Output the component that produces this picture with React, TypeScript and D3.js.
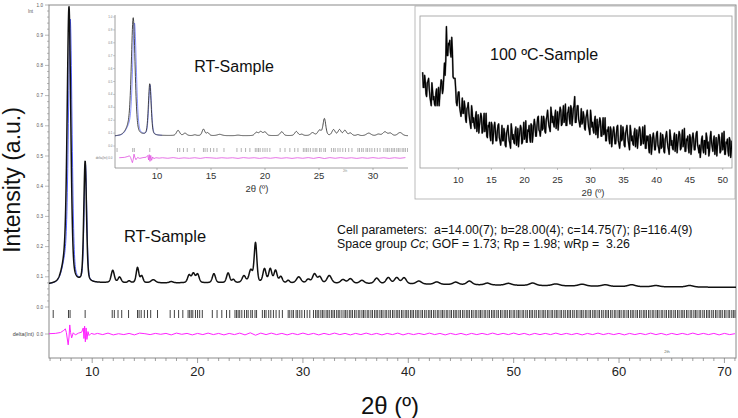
import React from "react";
import * as d3 from "d3";

const FONT = '"Liberation Sans", Arial, Helvetica, sans-serif';

// ---------- RT-sample pattern: peaks (2θ, height above background, FWHM) ----------
const peakPos = [7.5, 7.8, 9.33, 11.95, 12.6, 13.5, 14.3, 14.7, 15.8, 17.5, 19.2, 19.6, 20.0, 21.55, 22.9, 23.4, 24.4, 25.05, 25.5, 26.35, 26.9, 27.4, 27.9, 28.6, 29.6, 30.5, 31.1, 31.6, 32.5, 33.8, 34.5, 35.6, 37.0, 38.1, 38.9, 39.6, 41.0, 42.7, 44.5, 45.8, 47.5, 49.5, 51.8, 54.0, 56.5, 58.7, 61.2, 63.5, 66.7];
const peakHeight = [0.07, 0.87, 0.4, 0.04, 0.018, 0.006, 0.05, 0.022, 0.01, 0.004, 0.025, 0.03, 0.028, 0.03, 0.032, 0.01, 0.022, 0.04, 0.13, 0.045, 0.045, 0.04, 0.02, 0.008, 0.02, 0.012, 0.03, 0.02, 0.025, 0.012, 0.015, 0.01, 0.018, 0.02, 0.02, 0.02, 0.01, 0.008, 0.008, 0.012, 0.006, 0.006, 0.008, 0.006, 0.006, 0.005, 0.006, 0.004, 0.005];
const peakWidth = [0.8, 0.4, 0.3, 0.35, 0.35, 0.3, 0.3, 0.3, 0.5, 0.4, 0.35, 0.35, 0.35, 0.35, 0.35, 0.3, 0.4, 0.4, 0.3, 0.35, 0.35, 0.35, 0.35, 0.3, 0.5, 0.4, 0.45, 0.4, 0.5, 0.5, 0.5, 0.5, 0.5, 0.5, 0.5, 0.5, 0.6, 0.6, 0.6, 0.6, 0.6, 0.7, 0.7, 0.8, 0.8, 0.8, 0.8, 0.8, 0.8];
// calculated profile differs on the two strong low-angle peaks
const calcStrongPos = [7.52, 7.92, 9.36];
const calcStrongHeight = [0.07, 0.84, 0.39];

const bgTheta = [5.9, 7, 9, 12, 16, 20, 25, 30, 35, 40, 50, 60, 71.1];
const bgLevel = [0.074, 0.076, 0.078, 0.08, 0.08, 0.08, 0.08, 0.079, 0.078, 0.076, 0.072, 0.068, 0.065];

// reflection (hkl) positions, 2θ
const reflections = [6.3, 7.75, 7.9, 9.33, 11.9, 12.1, 12.45, 12.8, 13.45, 14.3, 14.45, 14.65, 14.95, 15.25, 15.55, 16.2, 17.4, 17.8, 18.2, 18.6, 19.1, 19.25, 19.4, 19.55, 19.8, 20.0, 20.2, 20.45, 21.4, 21.85, 22.3, 22.75, 23.05, 23.55, 23.7, 23.85, 24.0, 24.2, 24.45, 24.65, 24.8, 25.05, 25.2, 25.45, 25.6, 26.15, 26.35, 26.5, 26.75, 26.95, 27.2, 27.45, 27.75, 28.05, 28.6, 28.75, 28.95, 29.1, 29.35, 29.5, 29.7, 29.9, 30.15, 30.4, 30.65, 31.0, 31.2, 31.35, 31.5, 31.7, 31.85, 32.0, 32.2, 32.35, 32.5, 32.7, 32.85, 33.0, 33.2, 33.35, 33.5, 33.7, 33.9, 34.05, 34.2, 34.4, 34.55, 34.7, 34.9, 35.05, 35.25, 35.4, 35.6, 35.75, 35.9, 36.1, 36.25, 36.45, 36.6, 36.8, 36.95, 37.1, 37.3, 37.45, 37.6, 37.8, 37.95, 38.15, 38.3, 38.5, 38.65, 38.85, 39.0, 39.15, 39.35, 39.5, 39.7, 39.85,
  40.0, 40.2, 40.35, 40.5, 40.7, 40.85, 41.0, 41.2, 41.35, 41.55, 41.7, 41.9, 42.05, 42.2, 42.4, 42.55, 42.75, 42.9, 43.1, 43.25, 43.4, 43.6, 43.75, 43.95, 44.1, 44.3, 44.45, 44.6, 44.8, 44.95, 45.15, 45.3, 45.5, 45.65, 45.8, 46.0, 46.15, 46.35, 46.5, 46.7, 46.85, 47.0, 47.2, 47.35, 47.55, 47.7, 47.9, 48.05, 48.2, 48.4, 48.55, 48.75, 48.9, 49.1, 49.25, 49.4, 49.6, 49.75, 49.95, 50.1, 50.3, 50.45, 50.6, 50.8, 50.95, 51.15, 51.3, 51.5, 51.65, 51.8, 52.0, 52.15, 52.35, 52.5, 52.7, 52.85, 53.0, 53.2, 53.35, 53.55, 53.7, 53.9, 54.05, 54.2, 54.4, 54.55, 54.75, 54.9, 55.1, 55.25, 55.4, 55.6, 55.75, 55.95, 56.1, 56.3, 56.45, 56.6, 56.8, 56.95, 57.15, 57.3, 57.5, 57.65, 57.8, 58.0, 58.15, 58.35, 58.5, 58.7, 58.85, 59.0, 59.2, 59.35, 59.55, 59.7, 59.9, 60.05, 60.2, 60.4, 60.55, 60.75, 60.9, 61.1, 61.25, 61.4, 61.6, 61.75, 61.95, 62.1, 62.3, 62.45, 62.6, 62.8, 62.95, 63.15, 63.3, 63.5, 63.65, 63.8, 64.0, 64.15, 64.35, 64.5, 64.7, 64.85, 65.0, 65.2, 65.35, 65.55, 65.7, 65.9, 66.05, 66.2, 66.4, 66.55, 66.75, 66.9, 67.1, 67.25, 67.4, 67.6, 67.75, 67.95, 68.1, 68.3, 68.45, 68.6, 68.8, 68.95, 69.15, 69.3, 69.5, 69.65, 69.8, 70.0, 70.15, 70.35, 70.5, 70.7, 70.85, 71.0];

// difference curve (obs - calc): low-angle part
const diffHeadTheta = [5.9, 6.5, 7.0, 7.3, 7.45, 7.55, 7.65, 7.72, 7.8, 7.87, 7.95, 8.05, 8.2, 8.4, 8.7, 9.0, 9.15, 9.22, 9.28, 9.35, 9.42, 9.5, 9.6, 9.7, 9.9, 10.2];
const diffHeadValue = [0.001, 0.002, 0.005, 0.012, 0.017, 0.005, -0.02, -0.036, -0.01, 0.03, 0.005, -0.013, 0.004, -0.003, 0.003, 0.006, 0.02, -0.015, 0.026, -0.026, 0.02, -0.018, 0.008, -0.005, 0.002, -0.001];
// from 10.5° every 0.5°
const diffTailStart = 10.5;
const diffTailValue = [
  0.002, -0.002, 0.003, -0.003, 0.001, -0.002, 0.002, -0.003, 0.003, 0.001,
  -0.002, 0.002, -0.001, 0.002, -0.003, 0.003, -0.001, 0.002, -0.003, 0.002,
  -0.002, 0.003, -0.002, 0.002, -0.003, 0.002, -0.002, 0.003, -0.003, 0.004,
  -0.004, 0.003, -0.002, 0.003, -0.002, 0.002, -0.003, 0.002, -0.002, 0.003,
  -0.002, 0.002, -0.003, 0.002, -0.002, 0.003, -0.002, 0.002, -0.003, 0.002,
  -0.002, 0.003, -0.002, 0.002, -0.003, 0.002, -0.002, 0.003, -0.003, 0.002,
  -0.002, 0.002, -0.002, 0.003, -0.002, 0.002, -0.003, 0.002, -0.002, 0.002,
  -0.003, 0.002, -0.002, 0.002, -0.002, 0.003, -0.002, 0.002, -0.002, 0.003,
  -0.002, 0.002, -0.003, 0.002, -0.002, 0.002, -0.002, 0.003, -0.002, 0.002,
  -0.002, 0.002, -0.003, 0.002, -0.002, 0.003, -0.002, 0.002, -0.002, 0.002,
  -0.003, 0.002, -0.002, 0.002, -0.002, 0.003, -0.002, 0.002, -0.003, 0.002,
  -0.002, 0.002, -0.002, 0.003, -0.002, 0.002, -0.002, 0.002, -0.003, 0.002,
  -0.002, 0.001];

// ---------- 100 ºC sample: intensity (arb.) read every 0.1° ----------
// points at 4.6, 4.8, ... 51.4
const hotEvenStart = 4.6;
const hotIntensityEven = [
  63, 53, 57, 47, 57, 52, 44, 56, 45, 42,
  49, 41, 53, 48, 58, 49, 60, 61, 93, 74,
  81, 76, 86, 60, 59, 52, 41, 50, 40, 34,
  46, 36, 40, 30, 40, 36, 29, 41, 30, 28,
  34, 24, 35, 28, 36, 23, 30, 24, 36, 20,
  27, 21, 30, 16, 27, 25, 18, 28, 20, 15,
  28, 18, 23, 14, 25, 22, 16, 29, 19, 17,
  24, 15, 26, 20, 28, 16, 23, 19, 31, 17,
  24, 20, 29, 17, 28, 28, 21, 33, 25, 21,
  34, 26, 31, 23, 34, 32, 26, 40, 30, 29,
  34, 26, 37, 31, 40, 28, 35, 30, 42, 28,
  37, 32, 41, 28, 39, 47, 30, 41, 32, 27,
  39, 30, 34, 25, 35, 32, 25, 38, 27, 25,
  31, 22, 32, 26, 33, 21, 27, 22, 33, 18,
  24, 19, 27, 14, 24, 23, 16, 27, 18, 13,
  28, 19, 23, 14, 25, 22, 15, 28, 18, 16,
  23, 14, 25, 19, 27, 15, 21, 16, 28, 13,
  18, 13, 22, 9, 20, 19, 12, 23, 15, 10,
  23, 14, 19, 10, 21, 18, 12, 25, 15, 13,
  20, 11, 22, 16, 24, 12, 19, 14, 26, 11,
  18, 13, 22, 9, 20, 19, 12, 23, 15, 10,
  7, 19, 13, 18, 9, 20, 17, 11, 24, 14,
  18, 9, 20, 14, 22, 10, 17, 12, 24, 9,
  16, 11, 20, 7, 18];
// points at 4.7, 4.9, ... 51.3
const hotOddStart = 4.7;
const hotIntensityOdd = [
  53, 61, 49, 56, 59, 47, 41, 51, 47, 41,
  52, 45, 41, 53, 57, 52, 69, 71, 74, 82,
  84, 73, 77, 59, 59, 43, 46, 50, 37, 38,
  36, 44, 32, 39, 43, 32, 26, 37, 33, 26,
  37, 28, 23, 32, 34, 24, 36, 26, 21, 28,
  30, 18, 28, 21, 30, 18, 24, 29, 18, 20,
  18, 26, 15, 23, 28, 18, 13, 25, 22, 16,
  27, 19, 14, 24, 26, 17, 30, 21, 17, 25,
  28, 17, 28, 22, 32, 21, 28, 34, 24, 26,
  25, 34, 24, 32, 38, 28, 24, 36, 34, 27,
  38, 30, 25, 36, 38, 29, 41, 32, 28, 36,
  40, 29, 39, 33, 41, 30, 36, 41, 30, 31,
  29, 37, 26, 33, 38, 27, 22, 33, 30, 23,
  34, 25, 20, 29, 31, 21, 33, 23, 18, 25,
  27, 16, 25, 19, 27, 16, 22, 28, 16, 18,
  18, 27, 15, 23, 28, 18, 12, 24, 21, 15,
  26, 18, 13, 23, 25, 16, 27, 18, 13, 21,
  21, 10, 20, 14, 23, 12, 18, 24, 13, 15,
  13, 22, 11, 19, 24, 14, 9, 21, 18, 12,
  23, 15, 10, 20, 22, 13, 25, 16, 11, 19,
  21, 10, 20, 14, 23, 12, 18, 24, 13, 15,
  12, 21, 10, 18, 23, 13, 8, 20, 17, 11,
  21, 13, 8, 18, 20, 11, 23, 14, 9, 17,
  19, 8, 18, 12];

// ---------- tick labels ----------
const mainXTicks = [10, 20, 30, 40, 50, 60, 70];
const mainYTicks = [0, 0.1, 0.2, 0.3, 0.4, 0.5, 0.6, 0.7, 0.8, 0.9, 1.0];
const rtInsetXTicks = [10, 15, 20, 25, 30];
const hotInsetXTicks = [10, 15, 20, 25, 30, 35, 40, 45, 50];

// ---------- helpers ----------
const ETA = 0.3;
function pv(t: number, p: number, h: number, w: number) {
  const d = (t - p) / w;
  return h * (ETA / (1 + 4 * d * d) + (1 - ETA) * Math.exp(-2.7726 * d * d));
}
const bgScale = d3.scaleLinear().domain(bgTheta).range(bgLevel);
function intensity(t: number, calc: boolean) {
  let s = bgScale(t);
  for (let i = 0; i < peakPos.length; i++) {
    const p = calc && i < 3 ? calcStrongPos[i] : peakPos[i];
    const h = calc && i < 3 ? calcStrongHeight[i] : peakHeight[i];
    if (Math.abs(t - p) < peakWidth[i] * 12) s += pv(t, p, h, peakWidth[i]);
  }
  return s;
}
const grid = d3.range(5.9, 71.11, 0.02);
const obsData: [number, number][] = grid.map((t) => [t, intensity(t, false)]);
const calcData: [number, number][] = grid.map((t) => [t, intensity(t, true)]);
const diffData: [number, number][] = [
  ...diffHeadTheta.map((t, i) => [t, diffHeadValue[i]] as [number, number]),
  ...diffTailValue.map((v, i) => [diffTailStart + 0.5 * i, v] as [number, number]),
];
const hotData: [number, number][] = [
  ...hotIntensityEven.map((v, i) => [hotEvenStart + 0.2 * i, v] as [number, number]),
  ...hotIntensityOdd.map((v, i) => [hotOddStart + 0.2 * i, v] as [number, number]),
].sort((a, b) => a[0] - b[0]);

export default function App() {
  // main chart
  const xM = d3.scaleLinear().domain([5.9, 71.1]).range([49, 736]);
  const yM = d3.scaleLinear().domain([0, 1]).range([307, 5]);
  const dM = d3.scaleLinear().domain([0, 1]).range([334, 32]);
  // RT inset
  const xR = d3.scaleLinear().domain([6.11, 33.24]).range([115, 408]);
  const yR = d3.scaleLinear().domain([0, 1]).range([146, 17]);
  const dR = d3.scaleLinear().domain([0, 1]).range([158, 29]);
  // 100 ºC inset
  const xH = d3.scaleLinear().domain([4.2, 51.4]).range([420, 732]);
  const yH = d3.scaleLinear().domain([0, 100]).range([168, 16]);

  const lineM = d3.line<[number, number]>().x((d) => xM(d[0])).y((d) => yM(d[1]));
  const lineMD = d3.line<[number, number]>().x((d) => xM(d[0])).y((d) => dM(d[1]));
  const rtRange = (d: [number, number]) => d[0] >= 6.05 && d[0] <= 33.3;
  const lineR = d3.line<[number, number]>().x((d) => xR(d[0])).y((d) => yR(d[1]));
  const lineRD = d3.line<[number, number]>().x((d) => xR(d[0])).y((d) => dR(d[1]));
  const lineH = d3.line<[number, number]>().x((d) => xH(d[0])).y((d) => yH(d[1]));

  const minorX = d3.range(6, 72, 1);
  const minorY = d3.range(0, 1.001, 0.02);

  return (
    <svg width={738} height={418} style={{ position: "absolute", left: 0, top: 0, background: "#fff" }} fontFamily={FONT}>
      <defs>
        <clipPath id="clipMain"><rect x={49} y={5} width={687} height={353} /></clipPath>
        <clipPath id="clipRT"><rect x={115} y={12} width={293} height={156} /></clipPath>
        <clipPath id="clipHot"><rect x={420} y={16} width={312} height={152} /></clipPath>
      </defs>
      <rect x={0} y={0} width={738} height={418} fill="#fff" />

      {/* ===== main frame & axes ===== */}
      <rect x={49} y={5} width={687} height={353} fill="none" stroke="#8a8a8a" strokeWidth={1} />
      {minorX.map((t) => (
        <line key={"mx" + t} x1={xM(t)} x2={xM(t)} y1={358} y2={t % 10 === 0 ? 363 : 361} stroke="#777" strokeWidth={0.7} />
      ))}
      {mainXTicks.map((t) => (
        <text key={"xl" + t} x={xM(t)} y={376} fontSize={13} textAnchor="middle" fill="#222">{t}</text>
      ))}
      {minorY.map((v, i) => (
        <line key={"my" + i} x1={i % 5 === 0 ? 45 : 47} x2={49} y1={yM(v)} y2={yM(v)} stroke="#888" strokeWidth={0.6} />
      ))}
      {mainYTicks.map((v) => (
        <text key={"yl" + v} x={43} y={yM(v) + 1.6} fontSize={4.6} textAnchor="end" fill="#555">{v.toFixed(1)}</text>
      ))}
      <line x1={45} x2={49} y1={dM(0)} y2={dM(0)} stroke="#888" strokeWidth={0.6} />
      <text x={43} y={dM(0) + 1.6} fontSize={4.6} textAnchor="end" fill="#555">0.0</text>
      <text x={34} y={dM(0) + 1.8} fontSize={5.4} textAnchor="end" fill="#444">delta(Int)</text>
      <text x={33} y={13} fontSize={4.6} textAnchor="end" fill="#555">Int</text>
      <text x={667} y={353} fontSize={4} textAnchor="middle" fill="#666">2th</text>

      {/* main pattern */}
      <g clipPath="url(#clipMain)">
        <path d={lineM(calcData.filter((d) => d[0] < 10.5)) || ""} fill="none" stroke="#2a3cff" strokeWidth={0.8} />
        <path d={lineM(obsData) || ""} fill="none" stroke="#111" strokeWidth={1.5} strokeLinejoin="round" />
        {reflections.map((r, i) => (
          <line key={"rf" + i} x1={xM(r)} x2={xM(r)} y1={310} y2={318} stroke="#111" strokeWidth={0.8} />
        ))}
        <path d={lineMD(diffData) || ""} fill="none" stroke="#ff22ff" strokeWidth={1} />
      </g>

      {/* titles & annotations */}
      <text transform="translate(19.5,180) rotate(-90)" fontSize={23} textAnchor="middle" fill="#111">Intensity (a.u.)</text>
      <text x={390} y={414} fontSize={24} textAnchor="middle" fill="#111">2θ (º)</text>
      <text x={165} y={242} fontSize={16.5} textAnchor="middle" fill="#111">RT-Sample</text>
      <text x={337} y={233.5} fontSize={12.3} fill="#111" style={{ whiteSpace: "pre" }}>
        {"Cell parameters:  a=14.00(7); b=28.00(4); c=14.75(7); β=116.4(9)"}
      </text>
      <text x={337} y={247.5} fontSize={12.3} fill="#111" style={{ whiteSpace: "pre" }}>
        {"Space group "}<tspan fontStyle="italic">Cc</tspan>{"; GOF = 1.73; Rp = 1.98; wRp =  3.26"}
      </text>

      {/* ===== RT inset ===== */}
      <rect x={104} y={12} width={304} height={184} fill="#fff" />
      <line x1={115} x2={115} y1={15} y2={168} stroke="#888" strokeWidth={0.8} />
      <line x1={115} x2={408} y1={168} y2={168} stroke="#888" strokeWidth={0.8} />
      {mainYTicks.map((v) => (
        <g key={"ry" + v}>
          <line x1={113} x2={115} y1={yR(v)} y2={yR(v)} stroke="#999" strokeWidth={0.5} />
          <text x={112.5} y={yR(v) + 1} fontSize={3} textAnchor="end" fill="#777">{v.toFixed(1)}</text>
        </g>
      ))}
      <text x={112.5} y={dR(0) + 1} fontSize={3} textAnchor="end" fill="#777">delta(Int) 0.0</text>
      {rtInsetXTicks.map((t) => (
        <g key={"rx" + t}>
          <line x1={xR(t)} x2={xR(t)} y1={168} y2={170} stroke="#888" strokeWidth={0.6} />
          <text x={xR(t)} y={178.5} fontSize={9.5} textAnchor="middle" fill="#333">{t}</text>
        </g>
      ))}
      <text x={345} y={172} fontSize={3} textAnchor="middle" fill="#888">2th</text>
      <text x={257} y={192} fontSize={9.5} textAnchor="middle" fill="#333">2θ (º)</text>
      <g clipPath="url(#clipRT)">
        <path d={lineR(calcData.filter((d) => d[0] >= 6.05 && d[0] < 10.5)) || ""} fill="none" stroke="#4050ff" strokeWidth={0.6} />
        <path d={lineR(obsData.filter(rtRange)) || ""} fill="none" stroke="#333" strokeWidth={0.9} />
        {reflections.filter((r) => r < 33.3).map((r, i) => (
          <line key={"rr" + i} x1={xR(r)} x2={xR(r)} y1={148} y2={152} stroke="#666" strokeWidth={0.5} />
        ))}
        <path d={lineRD(diffData.filter(rtRange)) || ""} fill="none" stroke="#e050e0" strokeWidth={0.8} />
      </g>
      <text x={234} y={72} fontSize={16} textAnchor="middle" fill="#111">RT-Sample</text>

      {/* ===== 100 ºC inset ===== */}
      <rect x={415} y={6} width={320} height={193} fill="#fff" stroke="#aaa" strokeWidth={0.8} />
      <rect x={420} y={16} width={312} height={152} fill="none" stroke="#999" strokeWidth={0.8} />
      {hotInsetXTicks.map((t) => (
        <g key={"hx" + t}>
          <line x1={xH(t)} x2={xH(t)} y1={168} y2={170} stroke="#999" strokeWidth={0.6} />
          <text x={xH(t)} y={183} fontSize={9.5} textAnchor="middle" fill="#333">{t}</text>
        </g>
      ))}
      <text x={593} y={196} fontSize={9.5} textAnchor="middle" fill="#333">2θ (º)</text>
      <g clipPath="url(#clipHot)">
        <path d={lineH(hotData) || ""} fill="none" stroke="#777" strokeWidth={1.8} strokeLinejoin="round" />
        <path d={lineH(hotData) || ""} fill="none" stroke="#000" strokeWidth={1.1} strokeLinejoin="round" />
      </g>
      <text x={490} y={60} fontSize={16} fill="#111">100 ºC-Sample</text>
    </svg>
  );
}
